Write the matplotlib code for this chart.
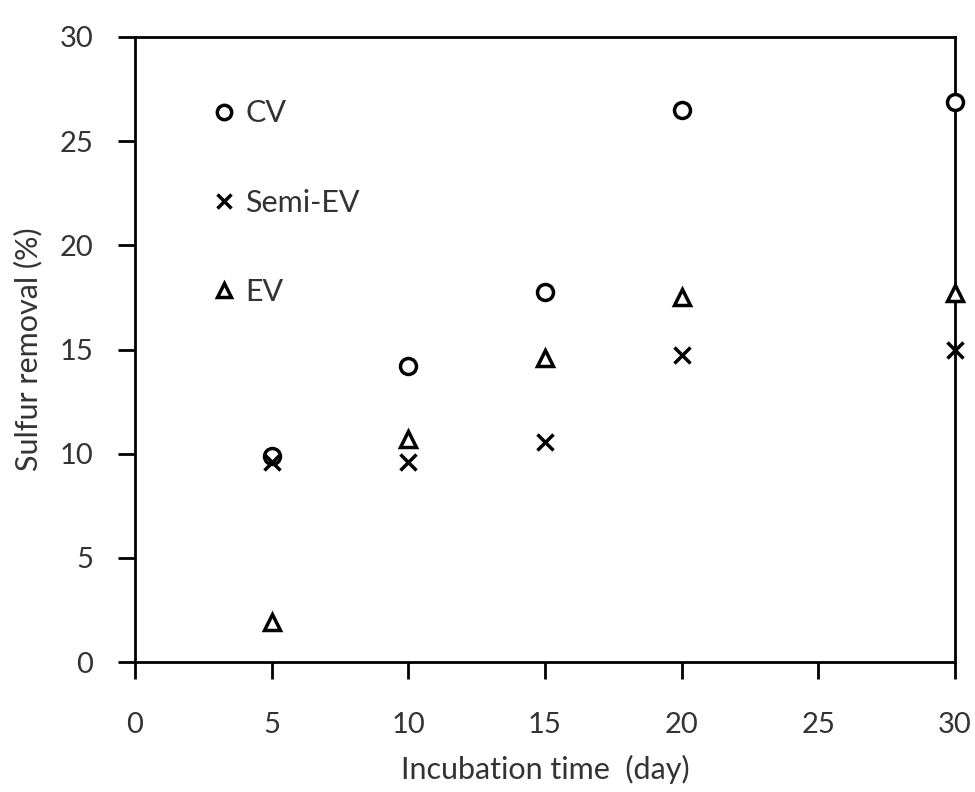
import matplotlib
matplotlib.use("Agg")
import matplotlib.pyplot as plt

days = [5, 10, 15, 20, 30]
cv = [9.9, 14.2, 17.75, 26.5, 26.9]
semi_ev = [9.6, 9.6, 10.55, 14.75, 15.0]
ev = [1.9, 10.7, 14.6, 17.5, 17.7]
cv_err = [0.15, 0.1, 0.1, 0.35, 0.0]
semi_err = [0.1, 0.1, 0.1, 0.1, 0.1]
ev_err = [0.0, 0.1, 0.1, 0.1, 0.1]

plt.rcParams['font.family'] = ['Lato', 'DejaVu Sans']
txt = "#333333"

fig = plt.figure(figsize=(9.75, 7.92), dpi=100)
ax = fig.add_axes([0.1385, 0.1641, 0.841, 0.7892])

series = [(cv, cv_err, "o", "CV"), (semi_ev, semi_err, "x", "Semi-EV"),
          (ev, ev_err, "^", "EV")]
for vals, err, mk, lab in series:
    ax.errorbar(days, vals, yerr=err, fmt="none", ecolor="black",
                elinewidth=1.5, capsize=0, clip_on=False, zorder=3)
    ax.plot(days, vals, mk, ms=11.5, mfc="white", mec="black", color="black",
            mew=2.5, label=lab, clip_on=False, zorder=4)

ax.set_xlim(0, 30)
ax.set_ylim(0, 30)
ax.set_xticks(range(0, 31, 5))
ax.set_yticks(range(0, 31, 5))
for s in ax.spines.values():
    s.set_linewidth(2)
ax.tick_params(direction="out", length=12, width=2, labelsize=21,
               labelcolor=txt)
ax.tick_params(axis="x", pad=24)
ax.tick_params(axis="y", pad=18)
ax.set_xlabel("Incubation time  (day)", fontsize=22, color=txt, labelpad=12)
ax.set_ylabel("Sulfur removal (%)", fontsize=22, color=txt, labelpad=12)

leg = ax.legend(loc="upper left", bbox_to_anchor=(0.056, 0.944), frameon=False,
                fontsize=22, labelspacing=2.0, handletextpad=0.2,
                handlelength=1.0, markerscale=0.9)
for t in leg.get_texts():
    t.set_color(txt)

fig.savefig("out.png", dpi=100)
